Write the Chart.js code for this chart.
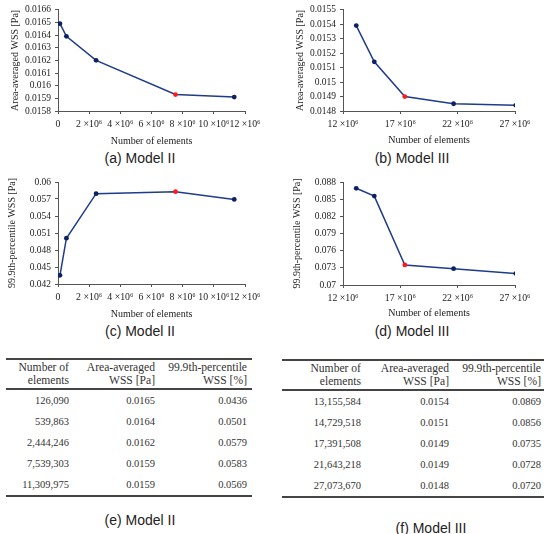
<!DOCTYPE html>
<html>
<head>
<meta charset="utf-8">
<script src="https://cdn.jsdelivr.net/npm/chart.js@4.4.1/dist/chart.umd.min.js"></script>
<style>
	body { margin: 0; background: #fff; }
	#page { position: relative; width: 550px; height: 534px; overflow: hidden; }
	.box { position: absolute; width: 275px; height: 150px; }
	.cap { position: absolute; font-family: "Liberation Sans", Arial, sans-serif; font-size: 14px; color: #222;
		transform: translate(-50%, -50%); white-space: nowrap; }
	.tbl { position: absolute; border-collapse: collapse; table-layout: fixed;
		font-family: "Liberation Serif", "DejaVu Serif", serif; font-size: 10.5px; color: #333; }
	.tbl td { text-align: right; padding: 0; white-space: nowrap; height: 21px; line-height: 21px; }
	.tbl thead td { height: 28px; line-height: 13px; font-size: 11.6px; border-top: 2px solid #444; border-bottom: 2px solid #444; vertical-align: middle; }
	.tbl tbody tr:last-child td { border-bottom: 2px solid #444; }
</style>
</head>
<body>
<div id="page">
	<div class="box" style="left:0;top:0"><canvas id="chartA"></canvas></div>
	<div class="box" style="left:275px;top:0"><canvas id="chartB"></canvas></div>
	<div class="box" style="left:0;top:170px"><canvas id="chartC"></canvas></div>
	<div class="box" style="left:275px;top:170px"><canvas id="chartD"></canvas></div>

	<div class="cap" style="left:140px;top:158px">(a) Model II</div>
	<div class="cap" style="left:412px;top:158px">(b) Model III</div>
	<div class="cap" style="left:140px;top:331px">(c) Model II</div>
	<div class="cap" style="left:412px;top:331px">(d) Model III</div>

	<table class="tbl" id="tableE" style="left:6px;top:358px;width:246px">
		<colgroup><col style="width:63px"><col style="width:86px"><col style="width:92px"><col style="width:5px"></colgroup>
		<thead><tr><td>Number of<br>elements</td><td>Area-averaged<br>WSS [Pa]</td><td>99.9th-percentile<br>WSS [%]</td><td></td></tr></thead>
		<tbody></tbody>
	</table>
	<table class="tbl" id="tableF" style="left:282px;top:359px;width:262px">
		<colgroup><col style="width:79px"><col style="width:88px"><col style="width:92px"><col style="width:3px"></colgroup>
		<thead><tr><td>Number of<br>elements</td><td>Area-averaged<br>WSS [Pa]</td><td>99.9th-percentile<br>WSS [%]</td><td></td></tr></thead>
		<tbody></tbody>
	</table>

	<div class="cap" style="left:140px;top:520px">(e) Model II</div>
	<div class="cap" style="left:431px;top:528px">(f) Model III</div>
</div>

<script>
// values
var model2Elements = [126090, 539863, 2444246, 7539303, 11309975];
var model2AvgWss = [0.01649, 0.01639, 0.01620, 0.01593, 0.01591];
var model2P999Wss = [0.04353, 0.05008, 0.05794, 0.05830, 0.05693];
var model3Elements = [13155584, 14729518, 17391508, 21643218, 27073670];
var model3AvgWss = [0.01539, 0.01514, 0.01490, 0.01485, 0.01484];
var model3P999Wss = [0.08690, 0.08554, 0.07350, 0.07285, 0.07200];

// values as printed in the tables
var model2AvgTable = ["0.0165", "0.0164", "0.0162", "0.0159", "0.0159"];
var model2P999Table = ["0.0436", "0.0501", "0.0579", "0.0583", "0.0569"];
var model3AvgTable = ["0.0154", "0.0151", "0.0149", "0.0149", "0.0148"];
var model3P999Table = ["0.0869", "0.0856", "0.0735", "0.0728", "0.0720"];

// tick values
var model2XTicks = [0, 2e6, 4e6, 6e6, 8e6, 10e6, 12e6];
var model3XTicks = [12e6, 17e6, 22e6, 27e6];
var avgWss2Ticks = [0.0158, 0.0159, 0.016, 0.0161, 0.0162, 0.0163, 0.0164, 0.0165, 0.0166];
var avgWss3Ticks = [0.0148, 0.0149, 0.015, 0.0151, 0.0152, 0.0153, 0.0154, 0.0155];
var p999Wss2Ticks = [0.042, 0.045, 0.048, 0.051, 0.054, 0.057, 0.06];
var p999Wss3Ticks = [0.07, 0.073, 0.076, 0.079, 0.082, 0.085, 0.088];

var lineColor = "#1f3c8c";
var dotColor = "#0d2064";
var redColor = "#ff1a1a";
var axisColor = "#555";
var serif = "'Liberation Serif', 'DejaVu Serif', serif";

function xLabel(v) {
	if (v === 0) return "0";
	return Math.round(v / 1e6) + " \u00d710\u2076";
}

function makeChart(id, xs, ys, redIdx, xTicks, yTicks, yTitle, box) {
	var dots = xs.map(function(x, i){ return i === redIdx ? redColor : dotColor; });
	return new Chart(document.getElementById(id), {
		type: "line",
		data: {
			datasets: [{
				data: xs.map(function(x, i){ return {x: x, y: ys[i]}; }),
				borderColor: lineColor,
				borderWidth: 1.5,
				pointRadius: 2.4,
				pointBorderWidth: 0,
				pointBackgroundColor: dots,
				tension: 0
			}]
		},
		options: {
			responsive: false,
			animation: false,
			maintainAspectRatio: false,
			layout: { padding: { left: 0, top: box.top, right: 275 - box.right, bottom: 0 } },
			plugins: { legend: { display: false }, tooltip: { enabled: false } },
			scales: {
				x: {
					type: "linear",
					min: xTicks[0],
					max: xTicks[xTicks.length - 1],
					afterBuildTicks: function(s){ s.ticks = xTicks.map(function(v){ return {value: v}; }); },
					afterFit: function(s){ s.height = 150 - box.bottom; },
					grid: { drawOnChartArea: false, drawTicks: true, tickLength: 3, color: axisColor },
					border: { display: true, color: axisColor, width: 1 },
					ticks: { autoSkip: false, maxRotation: 0, padding: box.xPad, color: "#222",
						font: { family: serif, size: 9.8 }, callback: xLabel },
					title: { display: true, text: "Number of elements", color: "#222",
						font: { family: serif, size: 10 }, padding: { top: 0, bottom: box.xTitle } }
				},
				y: {
					min: yTicks[0],
					max: yTicks[yTicks.length - 1],
					afterBuildTicks: function(s){ s.ticks = yTicks.map(function(v){ return {value: v}; }); },
					afterFit: function(s){ s.width = box.left; },
					grid: { drawOnChartArea: false, drawTicks: true, tickLength: 3, color: axisColor },
					border: { display: true, color: axisColor, width: 1 },
					ticks: { autoSkip: false, padding: 4, color: "#222", font: { family: serif, size: 9.5 },
						callback: function(v){ return String(Number(v.toFixed(4))); } },
					title: { display: true, text: yTitle, color: "#222",
						font: { family: serif, size: 10 }, padding: { top: box.yTitle, bottom: 0 } }
				}
			}
		}
	});
}

function fillTable(id, elements, avg, p999) {
	var body = document.querySelector("#" + id + " tbody");
	for (var i = 0; i < elements.length; i++) {
		var tr = document.createElement("tr");
		[elements[i].toLocaleString("en-US"), avg[i], p999[i], ""].forEach(function(t){
			var td = document.createElement("td");
			td.textContent = t;
			tr.appendChild(td);
		});
		body.appendChild(tr);
	}
}

["chartA", "chartB", "chartC", "chartD"].forEach(function(id){
	var c = document.getElementById(id);
	c.width = 275; c.height = 150;
	c.style.width = "275px"; c.style.height = "150px";
});

makeChart("chartA", model2Elements, model2AvgWss, 3, model2XTicks, avgWss2Ticks, "Area-averaged WSS [Pa]",
	{ left: 58, right: 245, top: 7, bottom: 111, xPad: 5, xTitle: 3, yTitle: 9 });
makeChart("chartB", model3Elements, model3AvgWss, 2, model3XTicks, avgWss3Ticks, "Area-averaged WSS [Pa]",
	{ left: 68, right: 240, top: 7, bottom: 111, xPad: 5, xTitle: 4, yTitle: 19 });
makeChart("chartC", model2Elements, model2P999Wss, 3, model2XTicks, p999Wss2Ticks, "99.9th-percentile WSS [Pa]",
	{ left: 58, right: 245, top: 12, bottom: 114, xPad: 5, xTitle: 0, yTitle: 6 });
makeChart("chartD", model3Elements, model3P999Wss, 2, model3XTicks, p999Wss3Ticks, "99.9th-percentile WSS [Pa]",
	{ left: 68, right: 240, top: 12, bottom: 115, xPad: 5, xTitle: 1, yTitle: 16 });

fillTable("tableE", model2Elements, model2AvgTable, model2P999Table);
fillTable("tableF", model3Elements, model3AvgTable, model3P999Table);
</script>
</body>
</html>
